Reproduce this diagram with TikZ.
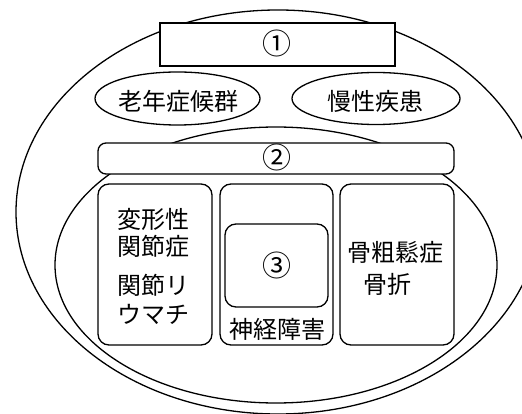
\documentclass[tikz,border=0pt]{standalone}
\usepackage{fontspec}
\setmainfont{Noto Sans CJK JP}
\usetikzlibrary{shapes.geometric}
\tikzset{
  jp/.style={font=\fontsize{24pt}{28pt}\selectfont, inner sep=0pt},
  num/.style={font=\fontsize{29pt}{32pt}\selectfont, inner sep=0pt},
  shapeline/.style={draw=black, line width=1.3pt},
  oval/.style={shapeline, ellipse, inner sep=0pt, fill=white},
  plainbox/.style={shapeline, rectangle, inner sep=0pt, fill=white},
  roundbox/.style={shapeline, rectangle, inner sep=0pt, fill=white, rounded corners=11pt},
  txt/.style={jp}
}
\begin{document}
\begin{tikzpicture}[x=1pt,y=-1pt]
\useasboundingbox (0,0) rectangle (522,414);
\clip (0,0) rectangle (522,414);
\fill[white] (0,0) rectangle (522,414);
% outer and inner ovals
\node[oval, minimum width=524pt, minimum height=404pt] (outer) at (278,212) {};
\node[oval, minimum width=442pt, minimum height=276pt] (inner) at (276,265) {};
% top box 1
\node[plainbox, minimum width=235pt, minimum height=43pt] (box1) at (277.5,44.5) {};
\node[num] (t1) at (277,43) {①};
% two small ovals
\node[oval, minimum width=165pt, minimum height=53pt] (ov1) at (177.5,98.5) {};
\node[txt] (tov1) at (178,101) {老年症候群};
\node[oval, minimum width=168pt, minimum height=52pt] (ov2) at (376,98.5) {};
\node[txt] (tov2) at (375,101) {慢性疾患};
% box 2
\node[roundbox, rounded corners=8pt, minimum width=356pt, minimum height=31pt] (box2) at (276,158.5) {};
\node[num] (t2) at (277,157.5) {②};
% three boxes
\node[roundbox, minimum width=114pt, minimum height=161pt] (left) at (155,264.5) {};
\node[roundbox, minimum width=113pt, minimum height=161pt] (mid) at (276.5,264.5) {};
\node[roundbox, minimum width=114pt, minimum height=161pt] (right) at (397,264.5) {};
% box 3
\node[roundbox, minimum width=103pt, minimum height=83pt] (box3) at (276.5,265.5) {};
\node[num] (t3) at (277,265) {③};
\node[txt] (tnerve) at (277,329) {神経障害};
% left texts
\node[txt] (l1) at (153,219) {変形性};
\node[txt] (l2) at (153,246) {関節症};
\node[txt] (l3) at (153,285) {関節リ};
\node[txt] (l4) at (153,314) {ウマチ};
% right texts
\node[txt] (r1) at (395,252) {骨粗鬆症};
\node[txt] (r2) at (387,284) {骨折};
\end{tikzpicture}
\end{document}
